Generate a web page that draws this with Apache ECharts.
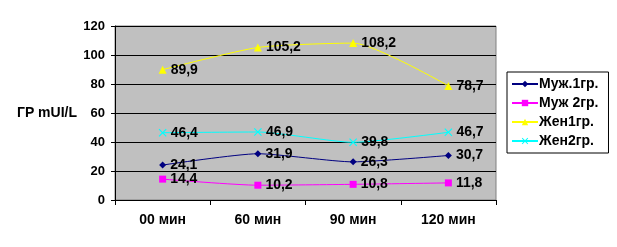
<!DOCTYPE html>
<html><head><meta charset="utf-8">
<script src="https://cdn.jsdelivr.net/npm/echarts@6/dist/echarts.min.js"></script>
<style>html,body{margin:0;padding:0;background:#fff}#c{width:617px;height:247px}</style>
</head><body><div id="c"></div>
<script>
var categories = ['00 мин', '60 мин', '90 мин', '120 мин'];
var seriesNames = ['Муж.1гр.', 'Муж 2гр.', 'Жен1гр.', 'Жен2гр.'];
var muz1 = [24.1, 31.9, 26.3, 30.7];
var muz2 = [14.4, 10.2, 10.8, 11.8];
var zhen1 = [89.9, 105.2, 108.2, 78.7];
var zhen2 = [46.4, 46.9, 39.8, 46.7];
var yTicks = [0, 20, 40, 60, 80, 100, 120];

var colors = ['#000080', '#FF00FF', '#FFFF00', '#00FFFF'];
var symbols = ['diamond', 'rect', 'triangle', 'path://M0,1L1,0L5,4L9,0L10,1L6,5L10,9L9,10L5,6L1,10L0,9L4,5Z'];
var sizes = [7, 7, 8, 8];
var datas = [muz1, muz2, zhen1, zhen2];

var chart = echarts.init(document.getElementById('c'));
var font = 'Arial, "Liberation Sans", sans-serif';
chart.setOption({
  animation: false,
  backgroundColor: '#fff',
  grid: {left: 115, right: 121, top: 26, bottom: 47, show: true, backgroundColor: '#c0c0c0', borderColor: '#808080', borderWidth: 1},
  legend: {
    orient: 'vertical', left: 507, top: 72,
    data: seriesNames,
    backgroundColor: '#fff', borderColor: '#000', borderWidth: 1,
    padding: [5, 10, 5, 4], itemGap: 5, itemWidth: 26, itemHeight: 8,
    textStyle: {fontFamily: font, fontWeight: 'bold', fontSize: 14, color: '#000', padding: [0,0,0,-4]}
  },
  xAxis: {
    type: 'category', data: categories, boundaryGap: true,
    axisLine: {lineStyle: {color: '#000', width: 1}},
    axisTick: {show: true, length: 5, lineStyle: {color: '#000'}},
    axisLabel: {fontFamily: font, fontWeight: 'bold', fontSize: 14, color: '#000', margin: 13},
    splitLine: {show: false}
  },
  yAxis: {
    type: 'value', min: yTicks[0], max: yTicks[yTicks.length - 1], interval: 20,
    name: 'ГР mUI/L', nameLocation: 'middle', nameRotate: 0, nameGap: 38,
    nameTextStyle: {fontFamily: font, fontWeight: 'bold', fontSize: 14, color: '#000', align: 'right'},
    axisLine: {show: true, lineStyle: {color: '#000'}},
    axisTick: {show: true, length: 4, lineStyle: {color: '#000'}},
    axisLabel: {fontFamily: font, fontWeight: 'bold', fontSize: 13, color: '#000', margin: 10},
    splitLine: {show: true, lineStyle: {color: '#000', width: 1}}
  },
  series: seriesNames.map(function (n, i) {
    return {
      name: n, type: 'line', data: datas[i], smooth: 0.2,
      symbol: symbols[i], symbolSize: sizes[i], showAllSymbol: true,
      itemStyle: {color: colors[i]},
      lineStyle: {color: colors[i], width: 1},
      label: {show: true, position: 'right', distance: 4, fontFamily: font, fontWeight: 'bold', fontSize: 14, color: '#000',
        formatter: function (p) { return String(p.value).replace('.', ','); }}
    };
  })
});
</script></body></html>
